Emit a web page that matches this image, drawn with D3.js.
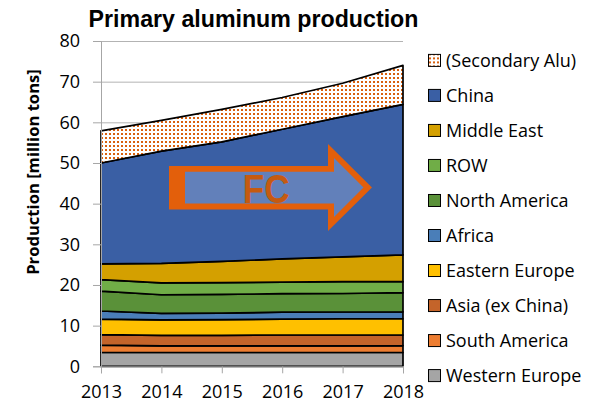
<!DOCTYPE html>
<html><head><meta charset="utf-8">
<script src="https://cdn.jsdelivr.net/npm/d3@7"></script>
<style>body{margin:0;background:#fff}svg{display:block}</style>
</head><body>
<svg id="c" width="602" height="407"></svg>
<script>
// ---- data (million tons) ----
const years = [2013, 2014, 2015, 2016, 2017, 2018];
const westernEurope = [3.4, 3.4, 3.4, 3.4, 3.4, 3.4];
const southAmerica  = [1.8, 1.6, 1.6, 1.6, 1.6, 1.7];
const asiaExChina   = [2.6, 2.6, 2.6, 2.7, 2.7, 2.6];
const easternEurope = [3.8, 3.8, 3.9, 3.9, 4.0, 4.0];
const africa        = [2.0, 1.6, 1.6, 1.7, 1.65, 1.7];
const northAmerica  = [4.9, 4.6, 4.6, 4.55, 4.55, 4.7];
const row           = [2.8, 2.9, 2.9, 2.85, 2.9, 2.7];
const middleEast    = [3.9, 4.8, 5.2, 5.7, 6.1, 6.6];
const china         = [24.8, 27.6, 29.4, 31.9, 34.5, 37.0];
const secondaryAlu  = [7.9, 7.6, 8.0, 7.8, 8.2, 9.6];
const yTicks = [0, 10, 20, 30, 40, 50, 60, 70, 80];
const title = "Primary aluminum production";
const yLabel = "Production [million tons]";
const arrowLabel = "FC";

const seriesNames = ["Western Europe","South America","Asia (ex China)","Eastern Europe","Africa","North America","ROW","Middle East","China","(Secondary Alu)"];
const seriesValues = [westernEurope, southAmerica, asiaExChina, easternEurope, africa, northAmerica, row, middleEast, china, secondaryAlu];
const seriesColors = ["#a5a5a5","#ed7d31","#c4642a","#ffc000","#4a7eb8","#5a9139","#70ad47","#d4a000","#3a5fa4","url(#dots)"];

const table = years.map((yr, i) => {
  const r = {year: yr};
  seriesNames.forEach((n, k) => r[n] = seriesValues[k][i]);
  return r;
});

const svg = d3.select("#c");
const x = d3.scaleLinear().domain([2013, 2018]).range([101, 403]);
const y = d3.scaleLinear().domain([0, 80]).range([366.3, 41]);

// pattern for secondary aluminium
const defs = svg.append("defs");
const pat = defs.append("pattern").attr("id","dots").attr("patternUnits","userSpaceOnUse")
  .attr("width",4).attr("height",4);
pat.append("rect").attr("width",4).attr("height",4).attr("fill","#fff");
pat.append("rect").attr("x",1).attr("y",1).attr("width",2).attr("height",2).attr("fill","#d9600e");

const font = "'Open Sans', Lato, 'Liberation Sans', Arial, sans-serif";

// title
svg.append("text").attr("x", 253.5).attr("y", 27).attr("text-anchor","middle")
  .attr("font-family","'Liberation Sans', Arial, sans-serif").attr("font-weight","bold")
  .attr("font-size", 23.2).attr("fill","#000").text(title);

// gridlines
svg.append("g").attr("transform","translate(101,0)")
  .call(d3.axisLeft(y).tickValues(yTicks.filter(v => v > 0)).tickSize(-302).tickFormat(""))
  .call(g => g.select(".domain").remove())
  .call(g => g.selectAll("line").attr("stroke","#b3b3b3").attr("stroke-width",1));

// stacked areas
const stack = d3.stack().keys(seriesNames);
const stacked = stack(table);
const area = d3.area().x(d => x(d.data.year)).y0(d => y(d[0])).y1(d => y(d[1]));
svg.append("g").selectAll("path").data(stacked).join("path")
  .attr("d", area)
  .attr("fill", (d, i) => seriesColors[i])
  .attr("stroke", "#000").attr("stroke-width", 1.7).attr("stroke-linejoin","round");

// y axis
const ya = svg.append("g").attr("transform","translate(101,0)")
  .call(d3.axisLeft(y).tickValues(yTicks).tickSize(8).tickPadding(13));
ya.select(".domain").attr("stroke","#a6a6a6");
ya.selectAll("line").attr("stroke","#a6a6a6");
ya.selectAll("text").attr("font-family",font).attr("font-size",18).attr("fill","#000");

// x axis
const xa = svg.append("g").attr("transform","translate(0,366.3)")
  .call(d3.axisBottom(x).tickValues(years).tickFormat(d3.format("d")).tickSize(7).tickPadding(12));
xa.select(".domain").attr("stroke","#a6a6a6");
xa.selectAll("line").attr("stroke","#a6a6a6");
xa.selectAll("text").attr("font-family",font).attr("font-size",18).attr("fill","#000");

// y label
svg.append("text").attr("transform","translate(39,172) rotate(-90)").attr("text-anchor","middle")
  .attr("font-family",font).attr("font-weight","bold").attr("font-size",16.6).attr("fill","#000")
  .text(yLabel);

// FC arrow
const ag = svg.append("g");
ag.append("polygon").attr("points","169,166 328,166 328,144 372,187.5 328,231 328,209.5 169,209.5").attr("fill","#e35f0b");
ag.append("polygon").attr("points","185,171.7 334,171.7 334,158 363.5,187.5 334,217 334,203.5 185,203.5").attr("fill","#6280ba");
ag.append("text").attr("transform","translate(266.3,202.7) scale(0.86,1)").attr("text-anchor","middle")
  .attr("font-family","'Liberation Sans', Arial, sans-serif").attr("font-weight","bold")
  .attr("font-size",41).attr("fill","#c55a11").text(arrowLabel);

// legend
const legendOrder = seriesNames.map((n, i) => i).reverse();
const lg = svg.append("g").selectAll("g").data(legendOrder).join("g")
  .attr("transform", (d, j) => `translate(428,${60.4 + j * 35.02})`);
lg.append("rect").attr("x",0.5).attr("y",-6).attr("width",12).attr("height",12)
  .attr("fill", d => seriesColors[d]).attr("stroke","#000").attr("stroke-width",1);
lg.append("text").attr("x",18).attr("y",6.3).attr("font-family",font).attr("font-size",18)
  .attr("fill","#000").text(d => seriesNames[d]);
</script>
</body></html>
